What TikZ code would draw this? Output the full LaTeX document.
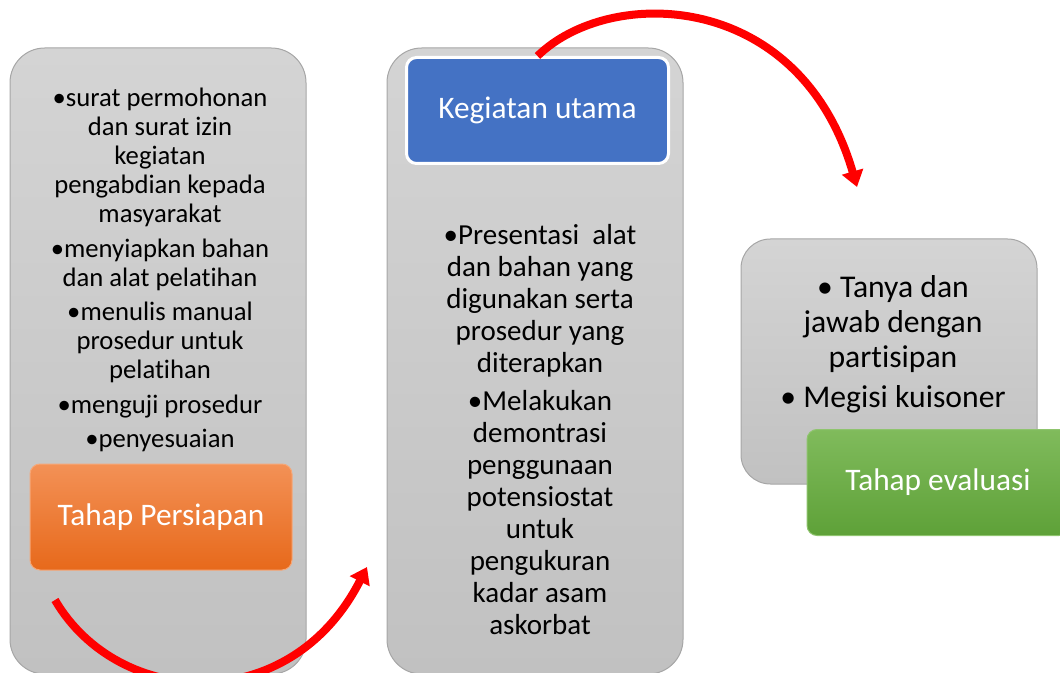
\documentclass[tikz,border=0pt]{standalone}
\usepackage{fontspec}
\setmainfont{Carlito}[Ligatures={NoCommon,NoRare,NoContextual}]
\usetikzlibrary{arrows.meta}
\definecolor{panelTop}{HTML}{D4D4D4}
\definecolor{panelBot}{HTML}{C1C1C1}
\definecolor{panelEdge}{HTML}{A6A6A6}
\definecolor{orangeTop}{HTML}{F39156}
\definecolor{orangeBot}{HTML}{E7691B}
\definecolor{orangeEdge}{HTML}{F5A778}
\definecolor{mainBlue}{HTML}{4472C4}
\definecolor{greenTop}{HTML}{80BB5C}
\definecolor{greenBot}{HTML}{5EA138}
\definecolor{greenEdge}{HTML}{8FC46E}
\definecolor{arrowRed}{HTML}{FF0000}
\tikzset{
    panel/.style={rounded corners=26pt, draw=panelEdge, line width=0.75pt,
        top color=panelTop, bottom color=panelBot,
        minimum width=222pt, inner sep=0pt},
    itemtext/.style={align=center, inner sep=0pt, text=black},
    stagebox/.style={rounded corners=7.5pt, line width=0.75pt, text=white,
        minimum width=196.5pt, minimum height=79.5pt,
        font=\fontsize{23.5}{28}\selectfont},
    flowarrow/.style={draw=arrowRed, line width=6pt,
        -{Triangle[length=12pt,width=16pt]}},
    }
\begin{document}
\begin{tikzpicture}[x=0.75pt,y=-0.75pt]
\useasboundingbox (0,0) rectangle (1060,673);
\clip (0,0) rectangle (1060,673);
% the three columns
\node[panel, minimum height=469.5pt] (prep) at (158,361) {};
\node[panel, minimum height=469.5pt] (main) at (535,361) {};
\node[panel, minimum height=183.75pt, rounded corners=22pt] (eval) at (889,361.5) {};
% items
\node[itemtext, font=\fontsize{20}{21.75}\selectfont] (preptext) at (160,270)
    {•surat permohonan\\dan surat izin\\kegiatan\\pengabdian kepada\\masyarakat\\[4.5pt]
     •menyiapkan bahan\\dan alat pelatihan\\[4pt]
     •menulis manual\\prosedur untuk\\pelatihan\\[4.5pt]
     •menguji prosedur\\[4pt]
     •penyesuaian};
\node[itemtext, font=\fontsize{21.75}{24}\selectfont] (maintext) at (540,430)
    {•Presentasi~ alat\\dan bahan yang\\digunakan serta\\prosedur yang\\diterapkan\\[4.5pt]
     •Melakukan\\demontrasi\\penggunaan\\potensiostat\\untuk\\pengukuran\\kadar asam\\askorbat};
\node[itemtext, font=\fontsize{23.75}{26.25}\selectfont] (evaltext) at (893,344)
    {• Tanya dan\\jawab dengan\\partisipan\\[4pt]
     • Megisi kuisoner};
% stage labels
\node[stagebox, top color=orangeTop, bottom color=orangeBot, draw=orangeEdge] (persiapan) at (161,517) {Tahap Persiapan};
\node[stagebox, fill=mainBlue, draw=white, line width=2.25pt] (kegiatan) at (537.5,110.5) {Kegiatan utama};
\node[stagebox, top color=greenTop, bottom color=greenBot, draw=greenEdge] (evaluasi) at (938,482.5) {Tahap evaluasi};
% flow
\coordinate (prepout) at (55,600);
\coordinate (mainin) at (367,567);
\coordinate (evalin) at (857,187);
\draw[flowarrow] (prepout) .. controls (118,708) and (290,718) .. (mainin);
\draw[flowarrow] (kegiatan.north) .. controls (610,-15) and (800,-10) .. (evalin);
\end{tikzpicture}
\end{document}
